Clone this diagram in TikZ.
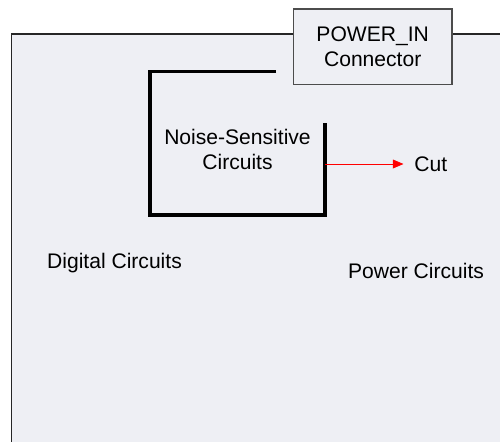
\documentclass[tikz,border=0pt]{standalone}
\usepackage{fontspec}
\setmainfont{Liberation Sans}
\usepackage{tikz}
\usetikzlibrary{arrows.meta,positioning}
\definecolor{boardgray}{RGB}{238,239,244}
\tikzset{
  board/.style={draw=black!85, line width=0.7pt, fill=boardgray},
  connbox/.style={draw=black!70, line width=0.7pt, fill=boardgray, align=center, minimum width=3.17cm, minimum height=1.51cm, font=\fontsize{12}{14.2}\selectfont},
  zonetext/.style={align=center, inner sep=0pt, font=\fontsize{12}{14.2}\selectfont},
  moat/.style={line width=1.8pt},
  cutline/.style={-{Triangle[length=6pt,width=5pt]}, red, line width=0.5pt}
}

\begin{document}
\begin{tikzpicture}[x=0.02cm, y=-0.02cm]
  \clip (0,0) rectangle (500,441);
  \path[board] (11.5,34) rectangle (520,460);
  \node[connbox] (conn) at (372.7,46.7) {POWER\_IN\\Connector};
  \draw[moat] (276,71.5) -| (150,215) -| (325,123);
  \node[zonetext] (noise) at (237.5,149) {Noise-Sensitive\\Circuits};
  \coordinate (tap) at (325,164);
  \node[zonetext, right=1.78cm of tap] (cut) {Cut};
  \draw[cutline, shorten >=0.21cm] (tap) -- (cut.west);
  \node[zonetext, anchor=base] (digital) at (114.5,268) {Digital Circuits};
  \node[zonetext, anchor=base] (power) at (416,278) {Power Circuits};
\end{tikzpicture}
\end{document}
